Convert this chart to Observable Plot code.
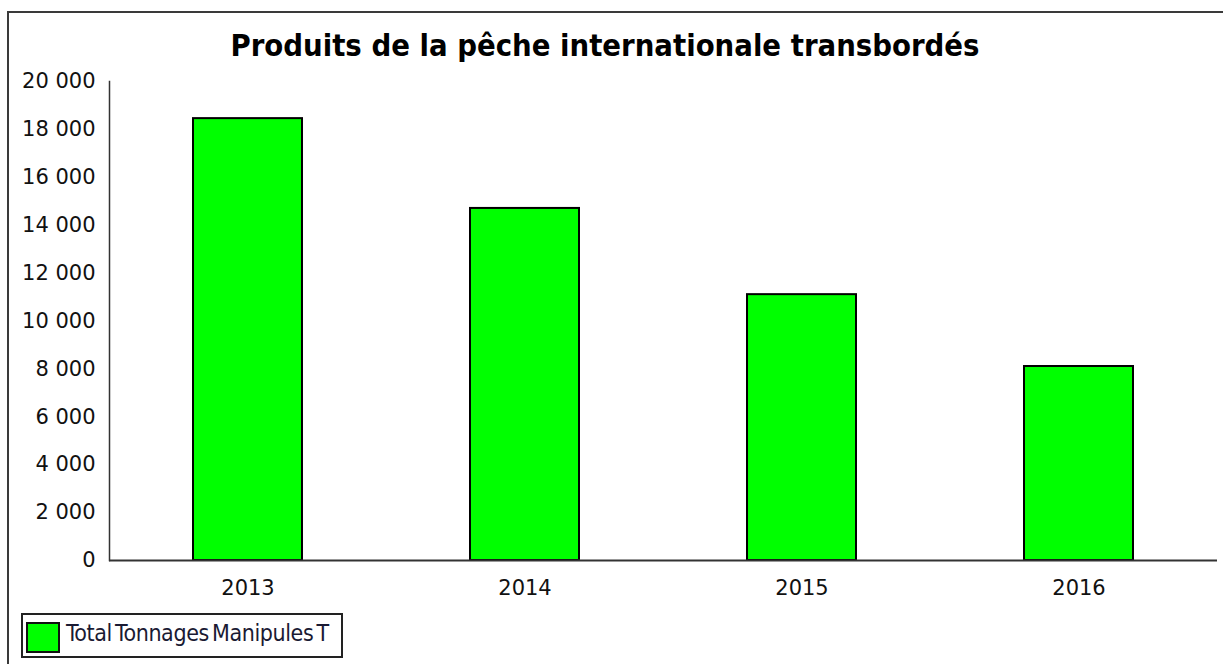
<!DOCTYPE html>
<html>
<head>
<meta charset="utf-8">
<script src="https://cdn.jsdelivr.net/npm/d3@7"></script>
<script src="https://cdn.jsdelivr.net/npm/@observablehq/plot@0.6"></script>
<style>
  html, body { margin: 0; padding: 0; background: #fff; width: 1223px; height: 664px; overflow: hidden; }
  #wrap { position: relative; width: 1223px; height: 664px; }
  #border { position: absolute; left: 7px; top: 11px; width: 1300px; height: 700px; border: 2px solid #3a3a3a; box-sizing: border-box; }
  #title { position: absolute; left: 0; top: 28px; width: 1210px; text-align: center; font-family: "DejaVu Sans Condensed", "DejaVu Sans", sans-serif; font-weight: bold; font-size: 30.7px; color: #000; white-space: nowrap; }
  #chart { position: absolute; left: 0; top: 0; }
  #legend { position: absolute; left: 21px; top: 613px; width: 322px; height: 45px; border: 2px solid #222; box-sizing: border-box; overflow: hidden; background: #fff; }
  #legend .sw { position: absolute; left: 3px; top: 7px; width: 34px; height: 31px; background: #00ff00; border: 2px solid #111; box-sizing: border-box; }
  #legend .lb { position: absolute; left: 43px; top: 5px; font-family: "DejaVu Sans Condensed", "DejaVu Sans", sans-serif; font-size: 23px; color: #1a1a33; white-space: nowrap; letter-spacing: -0.4px; word-spacing: -3px; }
</style>
</head>
<body>
<div id="wrap">
  <div id="border"></div>
  <div id="chart"></div>
  <div id="title">Produits de la pêche internationale transbordés</div>
  <div id="legend"><div class="sw"></div><div class="lb">Total Tonnages Manipules T</div></div>
</div>
<script>
const years = ["2013", "2014", "2015", "2016"];
const tonnages = [18450, 14700, 11100, 8100];
const yTicks = [0, 2000, 4000, 6000, 8000, 10000, 12000, 14000, 16000, 18000, 20000];
const seriesName = "Total Tonnages Manipules T";

const data = years.map((y, i) => ({year: y, value: tonnages[i]}));
const fmt = d => d3.format(",")(d).replace(/,/g, " ");

const chart = Plot.plot({
  width: 1223,
  height: 664,
  marginLeft: 109,
  marginRight: 6,
  marginTop: 81,
  marginBottom: 104,
  style: {background: "transparent", fontFamily: "DejaVu Sans, sans-serif", color: "#111"},
  x: {domain: years, paddingInner: 0.606, paddingOuter: 0.303, label: null},
  y: {domain: [0, 20000], label: null},
  marks: [
    Plot.barY(data, {x: "year", y: "value", fill: "#00ff00", stroke: "#000", strokeWidth: 2}),
    Plot.frame({anchor: "left", stroke: "#333", strokeWidth: 1.5}),
    Plot.ruleY([0], {stroke: "#333", strokeWidth: 2}),
    Plot.axisY({ticks: yTicks, tickFormat: fmt, tickSize: 0, tickPadding: 14, fontSize: 21, label: null}),
    Plot.axisX({tickSize: 0, tickPadding: 20, fontSize: 21, label: null})
  ]
});
document.getElementById("chart").appendChild(chart);
</script>
</body>
</html>
